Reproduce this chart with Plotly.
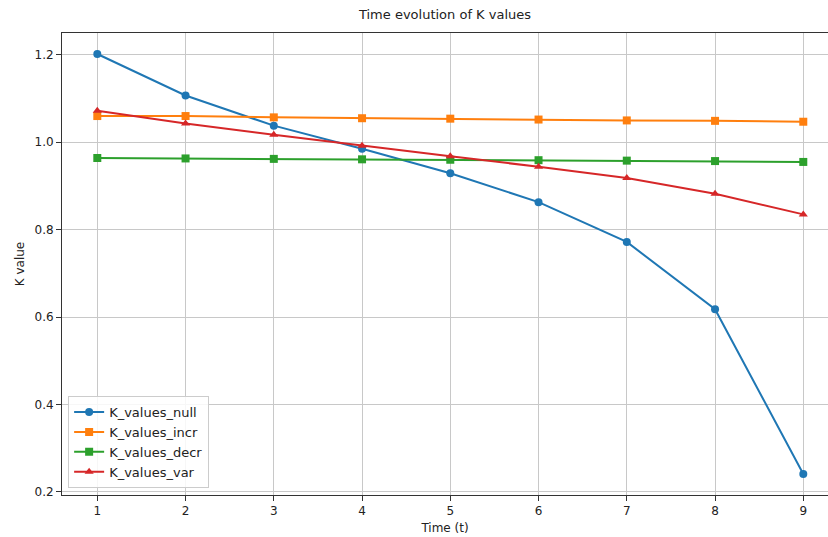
import plotly.graph_objects as go

t = [1, 2, 3, 4, 5, 6, 7, 8, 9]
k_null = [1.202, 1.107, 1.038, 0.985, 0.929, 0.863, 0.772, 0.618, 0.241]
k_incr = [1.060, 1.060, 1.057, 1.055, 1.054, 1.052, 1.050, 1.049, 1.047]
k_decr = [0.964, 0.963, 0.962, 0.961, 0.960, 0.959, 0.958, 0.957, 0.955]
k_var = [1.072, 1.043, 1.017, 0.992, 0.968, 0.944, 0.918, 0.882, 0.835]

series = [
    ("K_values_null", k_null, "#1f77b4", "circle"),
    ("K_values_incr", k_incr, "#ff7f0e", "square"),
    ("K_values_decr", k_decr, "#2ca02c", "square"),
    ("K_values_var", k_var, "#d62728", "triangle-up"),
]

fig = go.Figure()
for name, vals, color, sym in series:
    fig.add_trace(go.Scatter(
        x=t, y=vals, name=name, mode="lines+markers",
        line=dict(color=color, width=2),
        marker=dict(color=color, symbol=sym, size=8),
    ))

font = "DejaVu Sans"
fig.update_layout(
    width=828, height=537,
    margin=dict(l=62, r=0, t=33, b=42),
    paper_bgcolor="white", plot_bgcolor="white",
    font=dict(family=font, size=12, color="#222"),
    title=dict(text="Time evolution of K values", x=0.5, xref="paper",
               y=1 - 14 / 537, yref="container", yanchor="middle",
               font=dict(size=13, color="#222")),
    showlegend=True,
    legend=dict(x=0.008, y=0.015, xanchor="left", yanchor="bottom",
                bgcolor="rgba(255,255,255,0.85)", bordercolor="#cccccc",
                borderwidth=1, font=dict(size=13), tracegroupgap=0),
)
fig.update_xaxes(
    range=[0.6, 9.28], tickmode="array", tickvals=t,
    ticktext=[str(v) for v in t],
    showgrid=True, gridcolor="#c8c8c8", gridwidth=1,
    showline=True, linecolor="#333", linewidth=1, mirror=True,
    ticks="outside", ticklen=5, tickcolor="#333",
    zeroline=False,
    title=dict(text="Time (t)", standoff=6, font=dict(size=12)),
)
fig.update_yaxes(
    range=[0.193, 1.250], tickvals=[0.2, 0.4, 0.6, 0.8, 1.0, 1.2],
    tickformat=".1f",
    showgrid=True, gridcolor="#c8c8c8", gridwidth=1,
    showline=True, linecolor="#333", linewidth=1, mirror=True,
    ticks="outside", ticklen=5, tickcolor="#333",
    zeroline=False,
    title=dict(text="K value", standoff=7, font=dict(size=12)),
)

fig.write_html("out.html")
